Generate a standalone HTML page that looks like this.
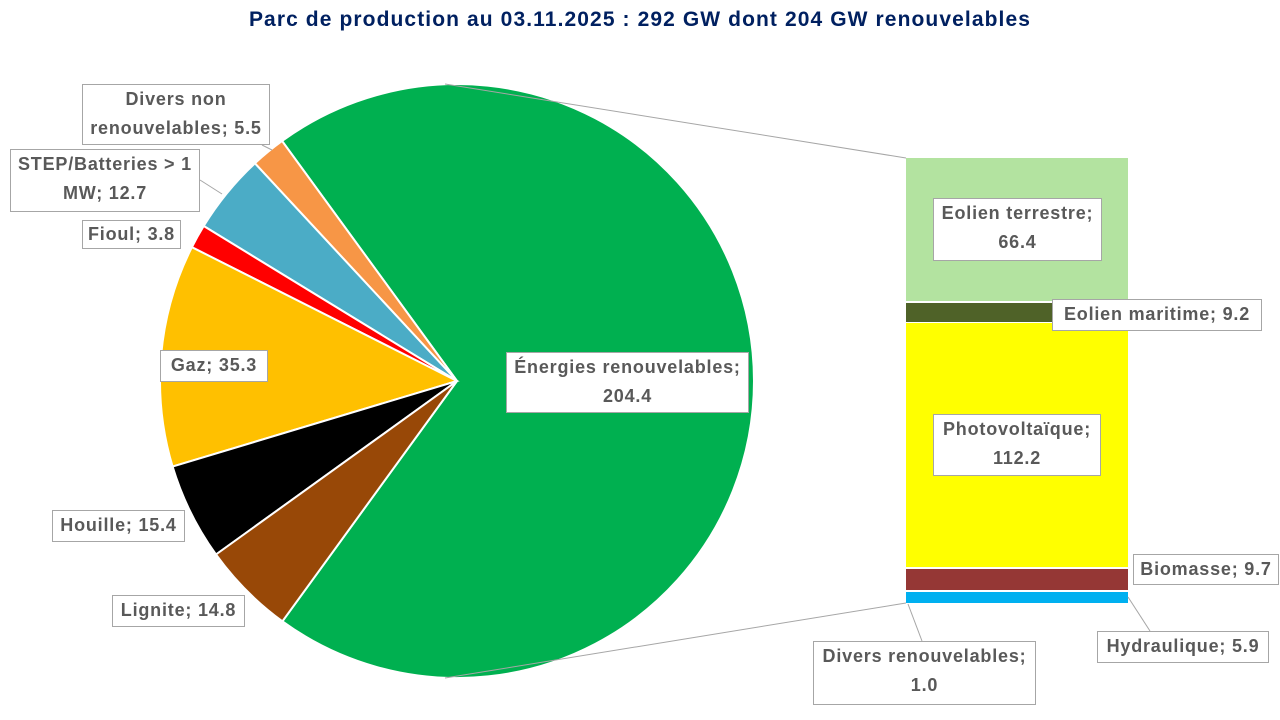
<!DOCTYPE html>
<html><head><meta charset="utf-8"><style>
html,body{margin:0;padding:0;background:#fff;}
body{width:1280px;height:720px;position:relative;overflow:hidden;font-family:"Liberation Sans",sans-serif;}
.t{position:absolute;left:0;width:1280px;top:8px;text-align:center;font-weight:bold;font-size:21px;letter-spacing:1.1px;color:#002060;}
.l{position:absolute;background:#fff;border:1px solid #a6a6a6;color:#595959;font-weight:bold;font-size:18px;letter-spacing:0.8px;line-height:29px;text-align:center;box-sizing:border-box;white-space:nowrap;}
svg{position:absolute;left:0;top:0;}
</style></head><body>
<svg width="1280" height="720" id="s">
<g id="pie"></g>
<line x1="445" y1="84" x2="906" y2="158" stroke="#a6a6a6" stroke-width="1"/>
<line x1="445" y1="678" x2="906" y2="603" stroke="#a6a6a6" stroke-width="1"/>
<rect x="906" y="158" width="222" height="143" fill="#b3e3a0"/>
<rect x="906" y="303" width="222" height="19" fill="#4f6228"/>
<rect x="906" y="323" width="222" height="244" fill="#ffff00"/>
<rect x="906" y="569" width="222" height="21" fill="#953735"/>
<rect x="906" y="592" width="222" height="11" fill="#00b0f0"/>
<line x1="1128" y1="597" x2="1150" y2="631" stroke="#a6a6a6"/>
<line x1="908" y1="604" x2="922" y2="641" stroke="#a6a6a6"/>
<line x1="200" y1="180" x2="222" y2="194" stroke="#a6a6a6"/>
<line x1="262" y1="145" x2="272" y2="150" stroke="#a6a6a6"/>
</svg>
<div class="t">Parc de production au 03.11.2025 : 292 GW dont 204 GW renouvelables</div>
<div class="l" style="left:82px;top:84px;width:188px;height:61px;">Divers non<br>renouvelables; 5.5</div>
<div class="l" style="left:10px;top:149px;width:190px;height:63px;">STEP/Batteries &gt; 1<br>MW; 12.7</div>
<div class="l" style="left:82px;top:220px;width:99px;height:29px;line-height:27px;">Fioul; 3.8</div>
<div class="l" style="left:160px;top:350px;width:108px;height:32px;">Gaz; 35.3</div>
<div class="l" style="left:52px;top:510px;width:133px;height:32px;">Houille; 15.4</div>
<div class="l" style="left:112px;top:595px;width:133px;height:32px;">Lignite; 14.8</div>
<div class="l" style="left:506px;top:352px;width:243px;height:61px;">Énergies renouvelables;<br>204.4</div>
<div class="l" style="left:933px;top:198px;width:169px;height:63px;">Eolien terrestre;<br>66.4</div>
<div class="l" style="left:1052px;top:299px;width:210px;height:32px;">Eolien maritime; 9.2</div>
<div class="l" style="left:933px;top:414px;width:168px;height:62px;">Photovoltaïque;<br>112.2</div>
<div class="l" style="left:1133px;top:554px;width:146px;height:31px;">Biomasse; 9.7</div>
<div class="l" style="left:1097px;top:631px;width:172px;height:32px;">Hydraulique; 5.9</div>
<div class="l" style="left:813px;top:641px;width:223px;height:64px;">Divers renouvelables;<br>1.0</div>
<script>
var cx=457,cy=381,r=297;
var d=[[204.4,"#00b050"],[5.5,"#f79646"],[12.7,"#4bacc6"],[3.8,"#ff0000"],[35.3,"#ffc000"],[15.4,"#000000"],[14.8,"#984807"]];
var tot=291.9,a=-0.7*Math.PI,g=document.getElementById("pie"),h="";
function p(t){return (cx+r*Math.cos(t)).toFixed(1)+","+(cy-r*Math.sin(t)).toFixed(1);}
for(var i=0;i<d.length;i++){var s=d[i][0]/tot*2*Math.PI;var b=a+s;
h+='<path d="M'+cx+','+cy+' L'+p(a)+' A'+r+','+r+' 0 '+(s>Math.PI?1:0)+',0 '+p(b)+' Z" fill="'+d[i][1]+'" stroke="#fff" stroke-width="2"/>';a=b;}
g.innerHTML=h;
</script>
</body></html>
